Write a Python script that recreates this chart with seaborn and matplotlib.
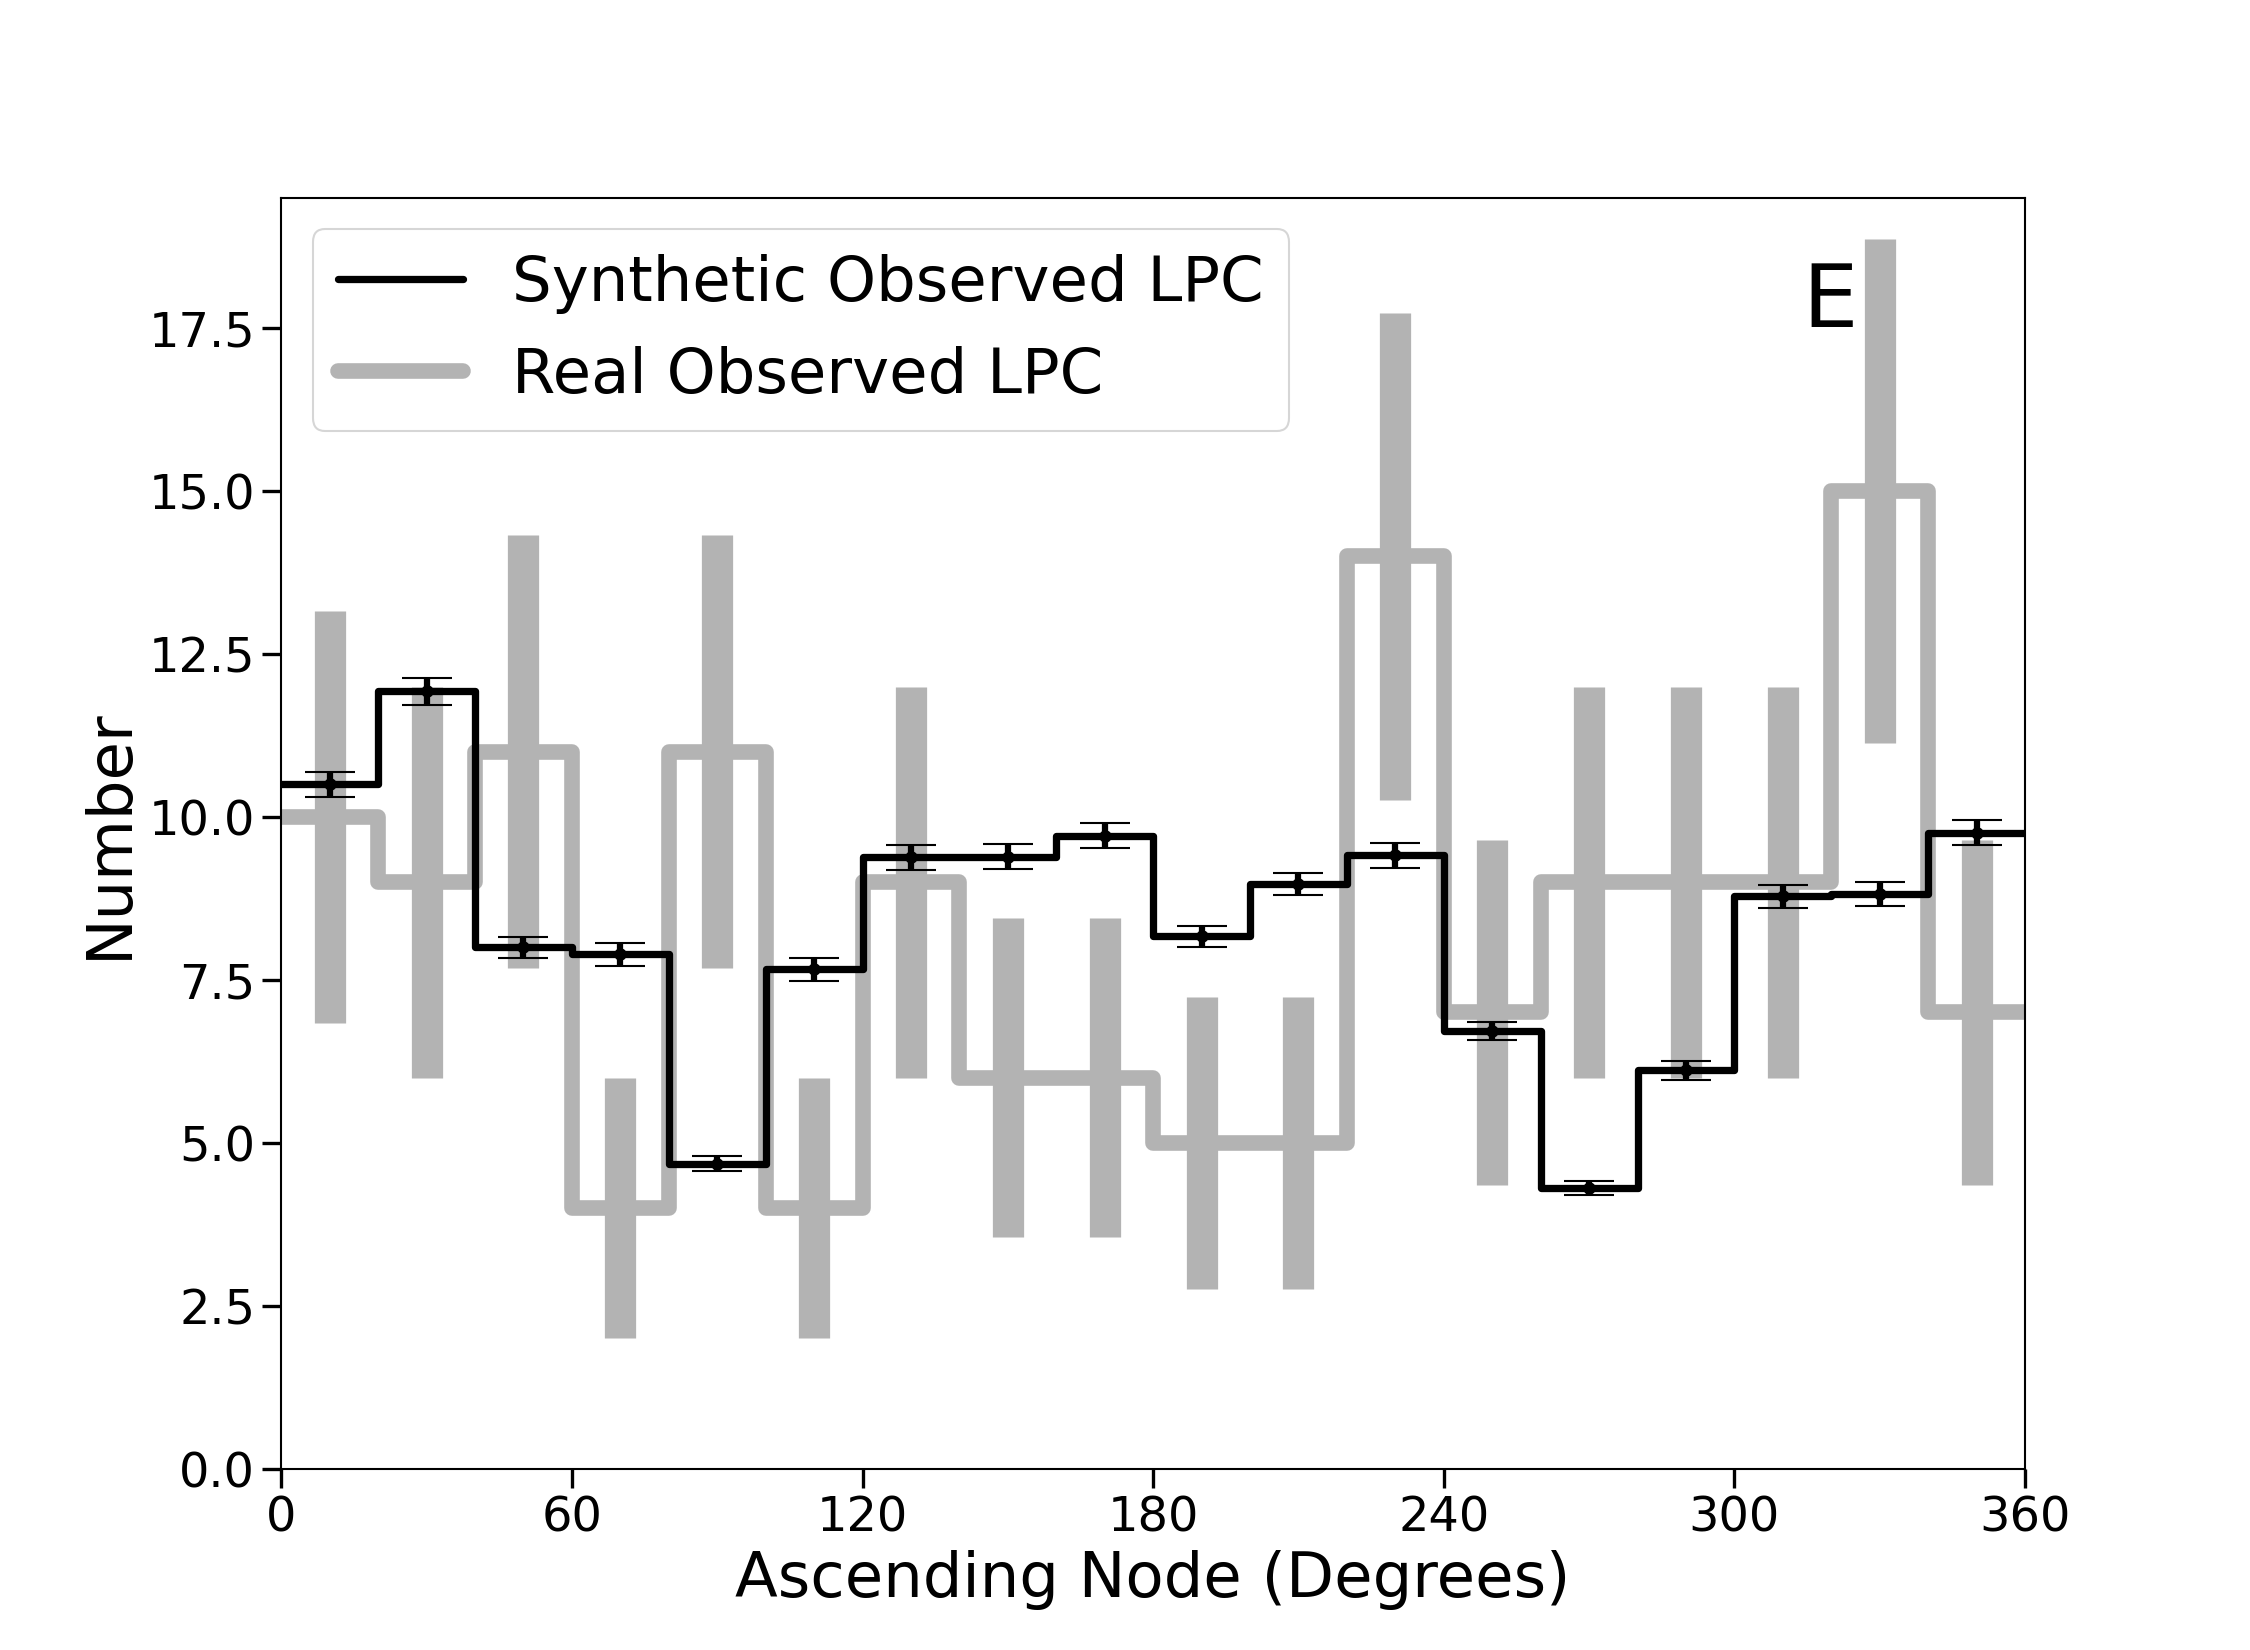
import matplotlib
matplotlib.use("Agg")
import matplotlib.pyplot as plt
import seaborn as sns
import pandas as pd
import numpy as np

# bin edges of ascending node (degrees), 20 degree bins
bin_edges = [0, 20, 40, 60, 80, 100, 120, 140, 160, 180, 200, 220, 240, 260, 280, 300, 320, 340, 360]
bin_centers = [10, 30, 50, 70, 90, 110, 130, 150, 170, 190, 210, 230, 250, 270, 290, 310, 330, 350]

# synthetic observed LPC (scaled counts) and their errors
synth_counts = [10.5, 11.93, 8.0, 7.89, 4.68, 7.66, 9.38, 9.39, 9.71, 8.17, 8.97, 9.41, 6.72, 4.31, 6.11, 8.78, 8.82, 9.76]
synth_err = [0.19, 0.21, 0.16, 0.17, 0.12, 0.18, 0.19, 0.19, 0.19, 0.16, 0.17, 0.19, 0.14, 0.11, 0.14, 0.18, 0.18, 0.19]

# real observed LPC counts and poisson errors
real_counts = [10, 9, 11, 4, 11, 4, 9, 6, 6, 5, 5, 14, 7, 9, 9, 9, 15, 7]
real_err = [3.16, 3.0, 3.32, 2.0, 3.32, 2.0, 3.0, 2.45, 2.45, 2.24, 2.24, 3.74, 2.65, 3.0, 3.0, 3.0, 3.87, 2.65]

sns.set_style("ticks")
plt.rcParams['font.family'] = ['DejaVu Sans']
plt.rcParams['text.color'] = 'black'
plt.rcParams['axes.labelcolor'] = 'black'

grey = '#b3b3b3'

fig, ax = plt.subplots(figsize=(15, 11), dpi=150)

# step histograms: repeat last value so the step reaches 360
df_real = pd.DataFrame({'edge': bin_edges, 'n': real_counts + [real_counts[-1]]})
df_synth = pd.DataFrame({'edge': bin_edges, 'n': synth_counts + [synth_counts[-1]]})

ax.errorbar(bin_centers, real_counts, yerr=real_err, fmt='none', ecolor=grey,
            elinewidth=15, capsize=0, zorder=1)
sns.lineplot(data=df_real, x='edge', y='n', drawstyle='steps-post', color=grey,
             lw=7.5, ax=ax, label='Real Observed LPC', zorder=2)
sns.lineplot(data=df_synth, x='edge', y='n', drawstyle='steps-post', color='black',
             lw=3.5, ax=ax, label='Synthetic Observed LPC', zorder=3)
ax.errorbar(bin_centers, synth_counts, yerr=synth_err, fmt='o', color='black', ms=5,
            elinewidth=3, capsize=12, capthick=1, zorder=4)

# legend order: synthetic first
handles, labels = ax.get_legend_handles_labels()
order = [labels.index('Synthetic Observed LPC'), labels.index('Real Observed LPC')]
ax.legend([handles[i] for i in order], [labels[i] for i in order],
          loc='upper left', fontsize=30)

ax.text(0.888, 0.917, 'E', transform=ax.transAxes, fontsize=42, ha='center', va='center')

ax.set_xlim(0, 360)
ax.set_ylim(0, 19.5)
ax.set_xticks([0, 60, 120, 180, 240, 300, 360])
ax.set_yticks([0, 2.5, 5, 7.5, 10, 12.5, 15, 17.5])
ax.set_yticklabels(['0.0', '2.5', '5.0', '7.5', '10.0', '12.5', '15.0', '17.5'])
ax.tick_params(axis='both', labelsize=23, length=9, width=1.6, direction='out', colors='black')
for s in ax.spines.values():
    s.set_color('black')
    s.set_linewidth(1.0)

ax.set_xlabel('Ascending Node (Degrees)', fontsize=30)
ax.set_ylabel('Number', fontsize=30)

plt.savefig('out.png', dpi=150)
plt.close()
